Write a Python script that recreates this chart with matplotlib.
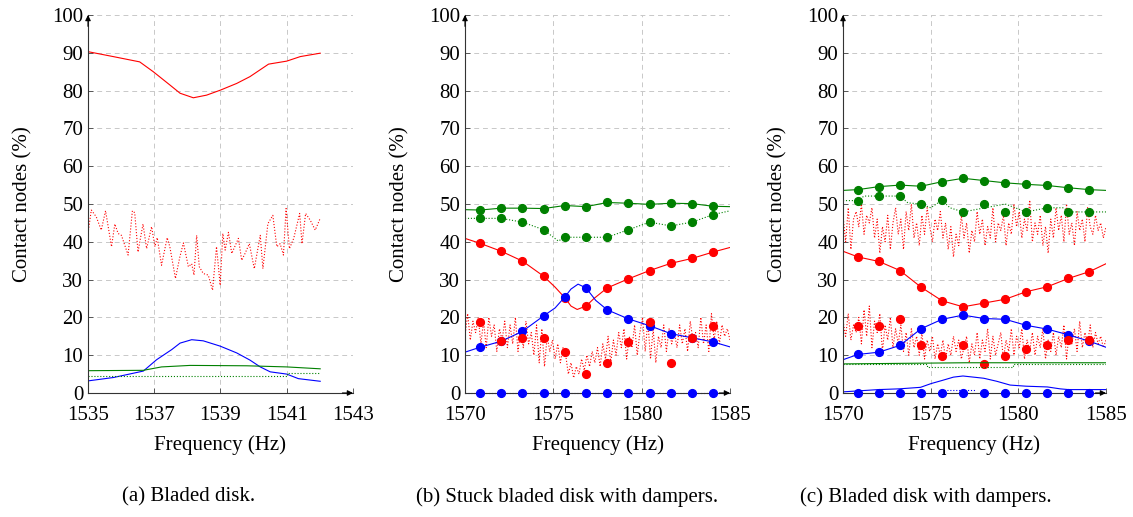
import matplotlib
matplotlib.use("Agg")
import matplotlib.pyplot as plt
import numpy as np

plt.rcParams['font.family'] = ['Liberation Serif', 'DejaVu Serif']
plt.rcParams['font.size'] = 15

RED = '#ff0000'
BLUE = '#0000ff'
GREEN = '#008000'

# ---------------- (a) Bladed disk ----------------
a_red_f = [1535.0, 1535.76, 1536.56, 1536.97, 1537.47, 1537.78, 1538.18, 1538.58,
           1538.99, 1539.49, 1539.89, 1540.45, 1541.0, 1541.41, 1542.01]
a_red = [90.3, 89.0, 87.6, 85.0, 81.5, 79.3, 78.1, 78.8, 80.1, 81.9, 83.7, 87.0,
         87.8, 89.0, 89.9]

a_noise_f = [1535.00, 1535.10, 1535.25, 1535.40, 1535.53, 1535.71, 1535.81, 1535.91,
             1536.01, 1536.21, 1536.34, 1536.41, 1536.51, 1536.66, 1536.77, 1536.92,
             1537.02, 1537.09, 1537.22, 1537.39, 1537.47, 1537.64, 1537.77, 1537.88,
             1538.03, 1538.13, 1538.20, 1538.28, 1538.36, 1538.48, 1538.63, 1538.76,
             1538.88, 1538.99, 1539.07, 1539.14, 1539.24, 1539.34, 1539.54, 1539.64,
             1539.74, 1539.87, 1540.02, 1540.20, 1540.28, 1540.43, 1540.58, 1540.70,
             1540.80, 1540.90, 1540.98, 1541.08, 1541.21, 1541.39, 1541.46, 1541.57,
             1541.71, 1541.86, 1542.01]
a_noise = [42.2, 48.4, 46.6, 43.1, 48.2, 38.7, 44.7, 42.2, 41.7, 36.5, 48.2, 47.7,
           37.3, 44.7, 38.2, 44.0, 38.7, 41.1, 33.8, 41.1, 38.7, 30.3, 35.9, 39.7,
           33.4, 34.2, 31.2, 41.7, 33.4, 31.6, 31.2, 27.2, 38.7, 28.5, 42.2, 37.8,
           42.5, 36.9, 40.9, 35.1, 36.9, 39.5, 32.9, 41.7, 32.9, 44.8, 47.0, 38.7,
           39.5, 36.5, 48.8, 38.2, 40.9, 47.5, 39.5, 47.5, 45.7, 43.1, 46.2]

a_blue_f = [1535.0, 1535.77, 1536.67, 1537.07, 1537.53, 1537.78, 1538.13, 1538.48,
            1538.99, 1539.49, 1539.89, 1540.20, 1540.50, 1541.0, 1541.35, 1542.01]
a_blue = [3.2, 4.1, 5.8, 8.8, 11.5, 13.2, 14.1, 13.8, 12.4, 10.6, 8.7, 6.9, 5.6,
          5.0, 3.8, 3.1]

a_green_f = [1535.0, 1536.67, 1537.22, 1538.08, 1539.79, 1541.0, 1542.01]
a_green = [5.9, 6.0, 6.9, 7.3, 7.2, 6.9, 6.4]

a_green_dot_f = [1535.0, 1541.0, 1541.0, 1542.01]
a_green_dot = [4.6, 4.6, 5.4, 5.4]

# ---------------- (b) and (c): marker frequencies ----------------
mark_f = [1570.85, 1572.05, 1573.25, 1574.45, 1575.65, 1576.85, 1578.05, 1579.25,
          1580.45, 1581.65, 1582.85, 1584.05]

# ---------------- (b) Stuck bladed disk with dampers ----------------
b_green = [48.4, 48.9, 48.9, 48.8, 49.6, 49.3, 50.4, 50.2, 49.9, 50.2, 50.1, 49.4]
b_green_start, b_green_end = 48.5, 49.3
b_green_dot = [46.2, 46.2, 45.2, 43.2, 41.2, 41.2, 41.2, 43.2, 45.2, 44.2, 45.2, 47.2]
b_green_dot_line_f = [1570.0, 1572.05, 1573.25, 1574.45, 1575.28, 1575.65, 1578.05,
                      1579.25, 1580.45, 1581.65, 1582.85, 1584.05, 1585.0]
b_green_dot_line = [46.2, 46.2, 45.2, 43.2, 40.2, 41.2, 41.2, 43.2, 45.2, 44.2,
                    45.2, 47.2, 48.2]

b_red = [39.6, 37.5, 34.9, 30.9, 25.2, 23.0, 27.8, 30.2, 32.4, 34.3, 35.6, 37.3]
b_red_line_f = [1570.0, 1570.85, 1572.05, 1573.25, 1574.45, 1575.1, 1575.65, 1576.0,
                1576.35, 1576.85, 1577.3, 1578.05, 1579.25, 1580.45, 1581.65, 1582.85,
                1584.05, 1585.0]
b_red_line = [40.9, 39.6, 37.5, 34.9, 30.9, 28.0, 25.2, 23.0, 22.1, 23.0, 25.0, 27.8,
              30.2, 32.4, 34.3, 35.6, 37.3, 38.5]

b_blue = [12.1, 13.7, 16.3, 20.4, 25.4, 27.8, 22.0, 19.6, 17.8, 15.7, 14.6, 13.5]
b_blue_line_f = [1570.0, 1570.85, 1572.05, 1573.25, 1574.45, 1575.1, 1575.65, 1576.0,
                 1576.4, 1576.85, 1577.4, 1578.05, 1579.25, 1580.45, 1581.65, 1582.85,
                 1584.05, 1585.0]
b_blue_line = [10.8, 12.1, 13.7, 16.3, 20.4, 22.5, 25.4, 27.5, 28.8, 27.8, 24.5, 22.0,
               19.6, 17.8, 15.7, 14.6, 13.5, 12.2]

b_red_dots = [18.7, 13.7, 14.5, 14.6, 10.8, 4.9, 7.9, 13.6, 18.7, 7.9, 14.6, 17.7]
b_blue_zero = [0.0] * 12

sweep_f = np.linspace(1570, 1585, 101)
b_noise = [15, 21, 14, 19, 16, 20, 13,
           19, 12, 20, 15, 18, 11, 17,
           14, 19, 12, 18, 13, 20, 11,
           17, 12, 19, 13, 16, 10, 18,
           8, 17, 7, 15, 11, 14,
           9, 13, 8, 12, 10,
           5, 8, 4, 7, 5, 9, 6,
           10, 7, 11, 8, 12, 7, 13,
           9, 15, 8, 14, 10, 16, 12,
           17, 9, 15, 12, 18, 10, 16,
           20, 11, 19, 9, 17, 8, 15,
           12, 18, 11, 17, 13, 16, 12,
           18, 13, 17, 11, 19, 14, 16,
           12, 20, 13, 18, 11, 21, 14,
           19, 13, 18, 15, 17, 14]

# ---------------- (c) Bladed disk with dampers ----------------
c_green = [53.8, 54.6, 55.0, 54.7, 55.9, 56.8, 56.2, 55.6, 55.2, 54.9, 54.3, 53.8]
c_green_start, c_green_end = 53.6, 53.6
c_green_dot = [50.9, 52.1, 52.1, 50.0, 51.0, 47.9, 50.0, 47.9, 47.9, 49.0, 47.9, 47.9]
c_green_dot_line_f = [1570.0, 1570.85, 1571.2, 1573.25, 1573.7, 1574.45, 1575.0,
                      1575.65, 1576.1, 1576.85, 1579.25, 1580.45, 1581.65, 1582.57,
                      1582.85, 1584.05, 1585.0]
c_green_dot_line = [50.9, 50.9, 52.1, 52.1, 50.3, 50.0, 49.0, 51.0, 49.0, 47.9, 50.0,
                    47.9, 49.0, 49.0, 47.9, 47.9, 47.9]

c_red = [36.0, 34.8, 32.4, 28.0, 24.4, 22.8, 23.8, 24.8, 26.8, 28.1, 30.3, 32.1]
c_red_start, c_red_end = 37.5, 34.2
c_blue = [10.2, 10.8, 12.6, 17.0, 19.5, 20.6, 19.7, 19.5, 17.9, 16.9, 15.4, 13.7]
c_blue_start, c_blue_end = 8.8, 12.1
c_red_dots = [17.7, 17.7, 19.6, 12.8, 9.9, 12.8, 7.7, 9.9, 11.7, 12.8, 13.9, 13.9]
c_blue_zero = [0.0] * 12

c_blue_low_f = [1570.0, 1572.01, 1573.21, 1574.42, 1575.03, 1575.64, 1576.30, 1576.84,
                1577.64, 1578.03, 1578.77, 1579.53, 1580.44, 1581.66, 1582.38, 1582.86,
                1585.0]
c_blue_low = [0.3, 0.9, 1.1, 1.5, 2.5, 3.3, 4.2, 4.5, 4.1, 3.9, 3.1, 2.1, 1.8, 1.6,
              1.1, 0.9, 0.9]

c_green_low_f = [1570.0, 1577.0, 1585.0]
c_green_low = [7.7, 8.0, 8.0]
c_green_low_dot_f = [1570.0, 1574.8, 1574.8, 1579.7, 1579.7, 1585.0]
c_green_low_dot = [7.7, 7.7, 6.9, 6.9, 7.8, 7.8]

c_noise_low = [19, 15, 21, 14, 18, 16, 20,
               13, 22, 15, 23, 12, 19, 16,
               21, 11, 18, 14, 20, 12, 17,
               13, 18, 11, 16, 10, 17, 12,
               15, 10, 16, 9, 14, 11,
               15, 9, 13, 10, 14,
               9, 13, 10, 15, 11, 14, 9,
               12, 15, 8, 13, 10, 16, 9,
               14, 11, 17, 9, 15, 10, 13,
               16, 9, 14, 11, 17, 10, 15,
               12, 17, 9, 14, 11, 16, 10,
               15, 12, 17, 9, 14, 11, 16,
               10, 15, 12, 18, 9, 16, 13,
               17, 11, 19, 12, 16, 13, 18,
               12, 16, 13, 15, 12, 14]
c_noise_high = [47, 40, 49, 38, 46, 48, 44,
                50, 42, 47, 45, 49, 41, 46,
                37, 44, 40, 47, 38, 45, 49,
                42, 46, 38, 48, 43, 50, 41,
                45, 39, 47, 42, 49, 44,
                40, 46, 43, 48, 41,
                45, 38, 44, 36, 42, 39, 47,
                41, 45, 37, 43, 40, 48, 42,
                46, 39, 44, 41, 49, 40, 45,
                43, 47, 39, 45, 42, 50, 44,
                48, 41, 46, 43, 51, 40, 45,
                42, 47, 39, 44, 37, 46, 41,
                49, 43, 47, 40, 50, 42, 45,
                39, 48, 43, 46, 40, 49, 44,
                42, 47, 43, 45, 41, 44]

LW = 0.8
MS = 5.6
FS = 15

fig = plt.figure(figsize=(11.33, 5.17), dpi=100)
W, H = 1133, 517
ax_a = fig.add_axes([88 / W, 124 / H, 265 / W, 378 / H])
ax_b = fig.add_axes([465 / W, 124 / H, 265 / W, 378 / H])
ax_c = fig.add_axes([843 / W, 124 / H, 263 / W, 378 / H])


def style(ax, xlim, xticks):
    ax.set_xlim(*xlim)
    ax.set_ylim(0, 100)
    ax.set_xticks(xticks)
    ax.set_yticks(range(0, 101, 10))
    ax.grid(True, color='#c8c8c8', linestyle=(0, (5, 4)), linewidth=0.7)
    ax.set_axisbelow(True)
    ax.spines['top'].set_visible(False)
    ax.spines['right'].set_visible(False)
    for s in ('left', 'bottom'):
        ax.spines[s].set_color('#333333')
        ax.spines[s].set_linewidth(0.8)
    ax.tick_params(direction='in', length=3.5, width=0.6, color='#444444',
                   labelsize=FS)
    ax.tick_params(axis='x', pad=9)
    ax.tick_params(axis='y', pad=3.5)
    ax.set_xlabel('Frequency (Hz)', labelpad=8, fontsize=FS)
    ax.set_ylabel('Contact nodes (%)', labelpad=14, fontsize=FS)
    ax.annotate('', xy=(1.0, 0), xytext=(0.96, 0), xycoords='axes fraction',
                arrowprops=dict(arrowstyle='-|>', color='black', lw=0.8,
                                mutation_scale=8, shrinkA=0, shrinkB=0))
    ax.annotate('', xy=(0, 1.0), xytext=(0, 0.97), xycoords='axes fraction',
                arrowprops=dict(arrowstyle='-|>', color='black', lw=0.8,
                                mutation_scale=8, shrinkA=0, shrinkB=0))


# (a)
ax_a.plot(a_red_f, a_red, color=RED, lw=LW)
ax_a.plot(a_noise_f, a_noise, color=RED, lw=LW, ls=':')
ax_a.plot(a_blue_f, a_blue, color=BLUE, lw=LW)
ax_a.plot(a_green_f, a_green, color=GREEN, lw=LW)
ax_a.plot(a_green_dot_f, a_green_dot, color=GREEN, lw=LW, ls=':')
style(ax_a, (1535, 1543), range(1535, 1544, 2))

# (b)
ax_b.plot(sweep_f, b_noise, color=RED, lw=LW, ls=':')
ax_b.plot([1570] + mark_f + [1585], [b_green_start] + b_green + [b_green_end],
          color=GREEN, lw=LW)
ax_b.plot(mark_f, b_green, 'o', color=GREEN, ms=MS)
ax_b.plot(b_green_dot_line_f, b_green_dot_line, color=GREEN, lw=LW, ls=':')
ax_b.plot(mark_f, b_green_dot, 'o', color=GREEN, ms=MS)
ax_b.plot(b_red_line_f, b_red_line, color=RED, lw=LW)
ax_b.plot(mark_f, b_red, 'o', color=RED, ms=MS)
ax_b.plot(b_blue_line_f, b_blue_line, color=BLUE, lw=LW)
ax_b.plot(mark_f, b_blue, 'o', color=BLUE, ms=MS)
ax_b.plot(mark_f, b_red_dots, 'o', color=RED, ms=MS)
ax_b.plot([1570] + mark_f + [1585], [0] + b_blue_zero + [0], color=BLUE, lw=LW, ls=':',
          clip_on=False)
ax_b.plot(mark_f, b_blue_zero, 'o', color=BLUE, ms=MS, clip_on=False, zorder=5)
style(ax_b, (1570, 1585), [1570, 1575, 1580, 1585])

# (c)
ax_c.plot(sweep_f, c_noise_high, color=RED, lw=LW, ls=':')
ax_c.plot(sweep_f, c_noise_low, color=RED, lw=LW, ls=':')
ax_c.plot([1570] + mark_f + [1585], [c_green_start] + c_green + [c_green_end],
          color=GREEN, lw=LW)
ax_c.plot(mark_f, c_green, 'o', color=GREEN, ms=MS)
ax_c.plot(c_green_dot_line_f, c_green_dot_line, color=GREEN, lw=LW, ls=':')
ax_c.plot(mark_f, c_green_dot, 'o', color=GREEN, ms=MS)
ax_c.plot([1570] + mark_f + [1585], [c_red_start] + c_red + [c_red_end], color=RED, lw=LW)
ax_c.plot(mark_f, c_red, 'o', color=RED, ms=MS)
ax_c.plot([1570] + mark_f + [1585], [c_blue_start] + c_blue + [c_blue_end],
          color=BLUE, lw=LW)
ax_c.plot(mark_f, c_blue, 'o', color=BLUE, ms=MS)
ax_c.plot(mark_f, c_red_dots, 'o', color=RED, ms=MS)
ax_c.plot(c_green_low_f, c_green_low, color=GREEN, lw=LW)
ax_c.plot(c_green_low_dot_f, c_green_low_dot, color=GREEN, lw=LW, ls=':')
ax_c.plot(c_blue_low_f, c_blue_low, color=BLUE, lw=LW)
ax_c.plot([1575.6, 1577.6], [0.7, 0.7], color=BLUE, lw=LW, ls=':')
ax_c.plot(mark_f, c_blue_zero, 'o', color=BLUE, ms=MS, clip_on=False, zorder=5)
style(ax_c, (1570, 1585), [1570, 1575, 1580, 1585])

fig.text(189 / W, 1 - 497 / H, '(a) Bladed disk.', ha='center', va='center', fontsize=FS)
fig.text(567 / W, 1 - 497 / H, '(b) Stuck bladed disk with dampers.', ha='center',
         va='center', fontsize=FS)
fig.text(926 / W, 1 - 497 / H, '(c) Bladed disk with dampers.', ha='center',
         va='center', fontsize=FS)

fig.savefig('out.png', dpi=100)
